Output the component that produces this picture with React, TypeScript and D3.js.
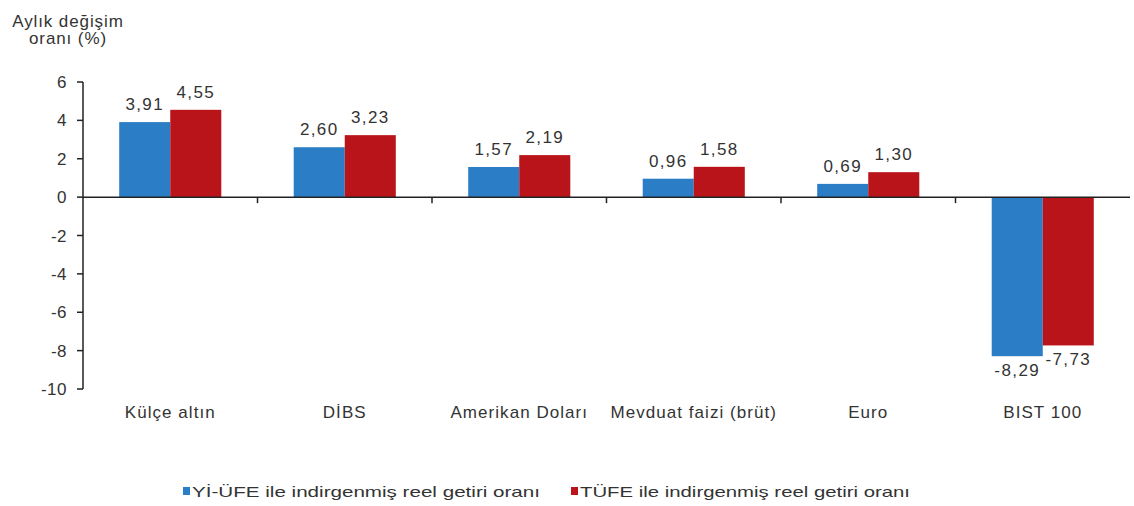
import * as d3 from "d3";

const categories = ["Külçe altın", "DİBS", "Amerikan Doları", "Mevduat faizi (brüt)", "Euro", "BIST 100"];
const seriesNames = ["Yİ-ÜFE ile indirgenmiş reel getiri oranı", "TÜFE ile indirgenmiş reel getiri oranı"];
const yiUfe = [3.91, 2.6, 1.57, 0.96, 0.69, -8.29];
const tufe = [4.55, 3.23, 2.19, 1.58, 1.3, -7.73];
const yTicks = [6, 4, 2, 0, -2, -4, -6, -8, -10];
const colors = ["#2b7dc5", "#b91419"];

const W = 1134;
const H = 506;
const font = "'Liberation Sans', Arial, sans-serif";

export default function App() {
  const x = d3.scaleBand<string>().domain(categories).range([83, 1130]);
  const groupW = x.bandwidth() * 0.585;
  const x1 = d3.scaleBand<number>().domain([0, 1]).range([0, groupW]);
  const y = d3.scaleLinear().domain([-10, 6]).range([389, 82]);
  const fmt = (v: number) => v.toFixed(2).replace(".", ",");
  const series = [yiUfe, tufe];

  // legend layout: square x, text width
  const legendPos = [
    { x: 183, w: 348 },
    { x: 571, w: 330 },
  ];

  return (
    <svg
      width={W}
      height={H}
      style={{ position: "absolute", left: 0, top: 0, background: "#fff" }}
      fontFamily={font}
    >
      {/* y title */}
      <text x={68} y={27} textAnchor="middle" fontSize={17} letterSpacing={0.9} fill="#333">
        Aylık değişim
      </text>
      <text x={68} y={44} textAnchor="middle" fontSize={17} letterSpacing={0.9} fill="#333">
        oranı (%)
      </text>

      {/* bars */}
      {series.map((vals, si) =>
        vals.map((v, i) => {
          const bx = x(categories[i])! + (x.bandwidth() - groupW) / 2 + x1(si)!;
          return (
            <rect
              key={`${si}-${i}`}
              x={bx}
              width={x1.bandwidth()}
              y={Math.min(y(v), y(0))}
              height={Math.abs(y(v) - y(0))}
              fill={colors[si]}
            />
          );
        })
      )}

      {/* value labels */}
      {series.map((vals, si) =>
        vals.map((v, i) => {
          const cx = x(categories[i])! + (x.bandwidth() - groupW) / 2 + x1(si)! + x1.bandwidth() / 2;
          const ty = v >= 0 ? y(v) - 12 : y(v) + 20;
          return (
            <text
              key={`l-${si}-${i}`}
              x={cx}
              y={ty}
              textAnchor="middle"
              fontSize={17}
              letterSpacing={1.4}
              fill="#333"
            >
              {fmt(v)}
            </text>
          );
        })
      )}

      {/* y axis */}
      <line x1={83} x2={83} y1={y(6)} y2={y(-10)} stroke="#222" strokeWidth={1.5} />
      {yTicks.map((t) => (
        <g key={t}>
          <line x1={77} x2={83} y1={y(t)} y2={y(t)} stroke="#222" strokeWidth={1.5} />
          <text x={67} y={y(t) + 6} textAnchor="end" fontSize={17} letterSpacing={0.5} fill="#333">
            {t}
          </text>
        </g>
      ))}

      {/* x axis */}
      <line x1={83} x2={1130} y1={y(0)} y2={y(0)} stroke="#222" strokeWidth={1.5} />
      {categories.slice(1).map((c) => (
        <line key={c} x1={x(c)!} x2={x(c)!} y1={y(0)} y2={y(0) + 6} stroke="#222" strokeWidth={1.5} />
      ))}
      {categories.map((c) => (
        <text
          key={c}
          x={x(c)! + x.bandwidth() / 2}
          y={418}
          textAnchor="middle"
          fontSize={17}
          letterSpacing={1.05}
          fill="#333"
        >
          {c}
        </text>
      ))}

      {/* legend */}
      {seriesNames.map((n, i) => (
        <g key={n}>
          <rect x={legendPos[i].x} y={487} width={7} height={8} fill={colors[i]} />
          <text
            x={legendPos[i].x + 9}
            y={497}
            fontSize={15}
            textLength={legendPos[i].w}
            lengthAdjust="spacingAndGlyphs"
            fill="#333"
          >
            {n}
          </text>
        </g>
      ))}
    </svg>
  );
}
